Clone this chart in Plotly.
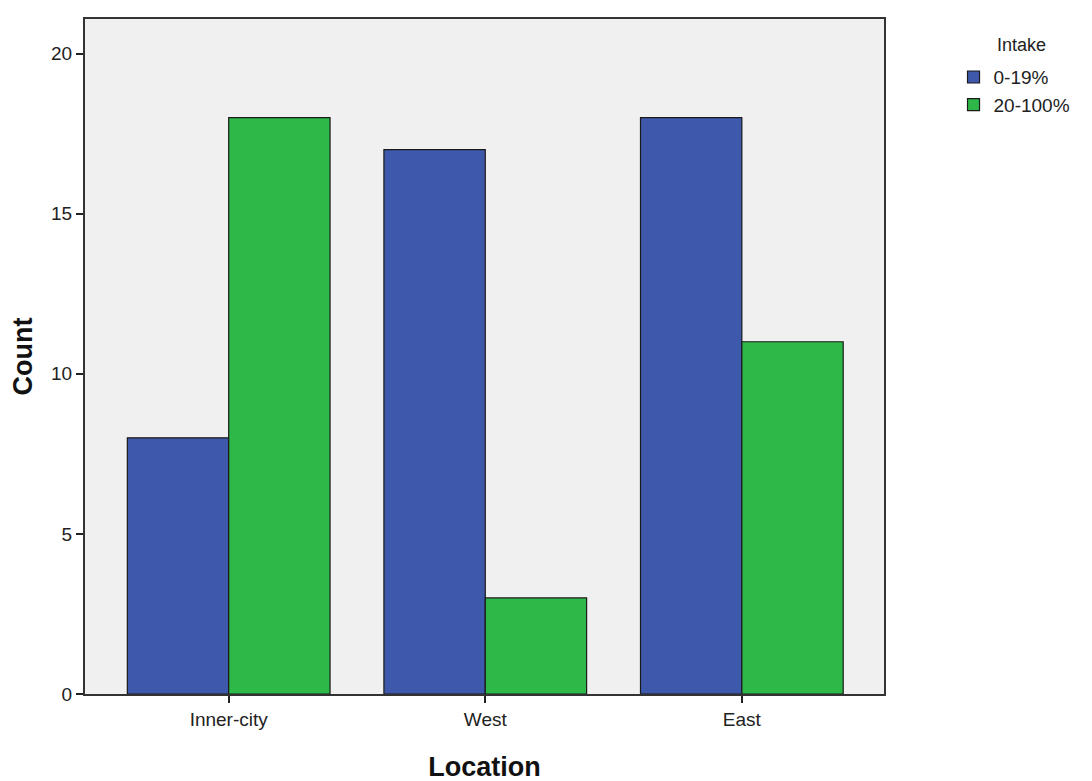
import plotly.graph_objects as go

categories = ["Inner-city", "West", "East"]
intake_low = [8, 17, 18]
intake_high = [18, 3, 11]
series_names = ["0-19%", "20-100%"]
legend_title = "Intake"

fig = go.Figure()
fig.add_trace(go.Bar(x=categories, y=intake_low, name=series_names[0],
                     marker=dict(color="#3E58AC", line=dict(color="#1a1a1a", width=1.2))))
fig.add_trace(go.Bar(x=categories, y=intake_high, name=series_names[1],
                     marker=dict(color="#2EB848", line=dict(color="#1a1a1a", width=1.2))))

font_family = "Arial, Liberation Sans, sans-serif"
fig.add_annotation(text=legend_title, xref="paper", yref="paper", x=1.172, y=0.962,
                   xanchor="center", yanchor="middle", showarrow=False,
                   font=dict(size=18, color="#222"))
fig.update_layout(
    width=1092, height=781,
    barmode="group", bargap=0.21, bargroupgap=0,
    plot_bgcolor="#F0F0F0", paper_bgcolor="white",
    margin=dict(l=77, r=216, t=9, b=95),
    font=dict(family=font_family, size=19, color="#222"),
    legend=dict(x=1.087, y=0.942, xanchor="left", yanchor="top",
                font=dict(size=19), itemwidth=30, tracegroupgap=0),
    xaxis=dict(range=[-0.56, 2.554], showline=True, linecolor="#333", linewidth=2,
               mirror=True, ticks="outside", ticklen=7, tickcolor="#222", tickwidth=2,
               tickfont=dict(size=19),
               title=dict(text="<b>Location</b>", font=dict(size=27, color="#111"), standoff=28)),
    yaxis=dict(range=[0, 21.08], showline=True, linecolor="#333", linewidth=2,
               mirror=True, ticks="outside", ticklen=7, tickcolor="#222", tickwidth=2,
               tickvals=[0, 5, 10, 15, 20], showgrid=False, zeroline=False,
               tickfont=dict(size=19),
               title=dict(text="<b>Count</b>", font=dict(size=27, color="#111"), standoff=15)),
)
fig.write_html("out.html")
